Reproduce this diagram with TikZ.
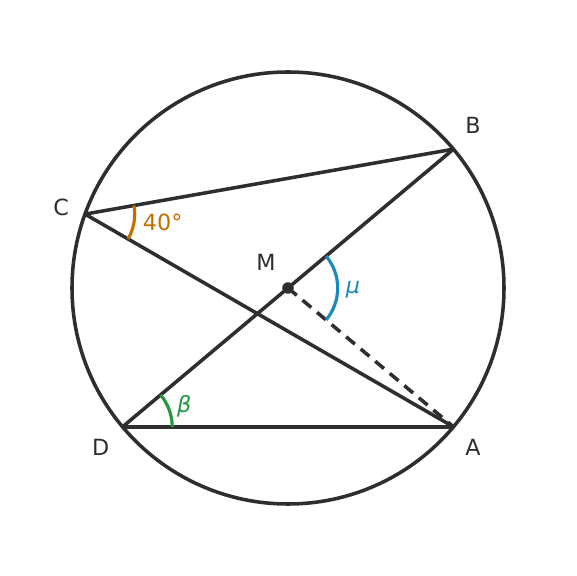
\documentclass[tikz,border=0pt]{standalone}
\usepackage{fontspec}
\setmainfont{DejaVu Sans}
\definecolor{ink}{HTML}{2E2E2E}
\definecolor{orng}{HTML}{C27000}
\definecolor{blu}{HTML}{1A8ABD}
\definecolor{grn}{HTML}{23963F}
\begin{document}
\begin{tikzpicture}[
  seg/.style={draw=ink, line width=1.4pt},
  dsh/.style={draw=ink, line width=1.4pt, dash pattern=on 4.5pt off 3pt},
  angarc/.style={line width=1.25pt},
  lbl/.style={font=\fontsize{8.8}{10.5}\selectfont, text=ink, inner sep=0pt}
]
\useasboundingbox (-4,-4) rectangle (4,4);
\coordinate (M) at (0,0);
\coordinate (B) at (40:3);
\coordinate (A) at (-40:3);
\coordinate (D) at (220:3);
\coordinate (C) at (160:3);
\draw[seg] (M) circle[radius=3];
\draw[seg] (C) -- (B);
\draw[seg] (C) -- (A);
\draw[seg] (D) -- (B);
\draw[seg] (D) -- (A);
\draw[dsh] (M) -- (A);
\fill[ink] (M) circle[radius=0.08];
\draw[angarc, draw=orng] (C) ++(-30:0.69) arc[start angle=-30, end angle=10, radius=0.69];
\draw[angarc, draw=blu] (M) ++(-40:0.69) arc[start angle=-40, end angle=40, radius=0.69];
\draw[angarc, draw=grn] (D) ++(0:0.69) arc[start angle=0, end angle=40, radius=0.69];
\node[lbl] (lB) at (2.57,2.26) {B};
\node[lbl] (lC) at (-3.15,1.125) {C};
\node[lbl] (lD) at (-2.60,-2.21) {D};
\node[lbl] (lA) at (2.57,-2.21) {A};
\node[lbl] (lM) at (-0.306,0.361) {M};
\node[lbl, text=orng] (l40) at (-1.74,0.917) {40°};
\node[lbl, text=blu] (lmu) at (0.903,-0.02) {\itshape μ};
\node[lbl, text=grn] (lbeta) at (-1.44,-1.64) {\itshape β};
\end{tikzpicture}
\end{document}
